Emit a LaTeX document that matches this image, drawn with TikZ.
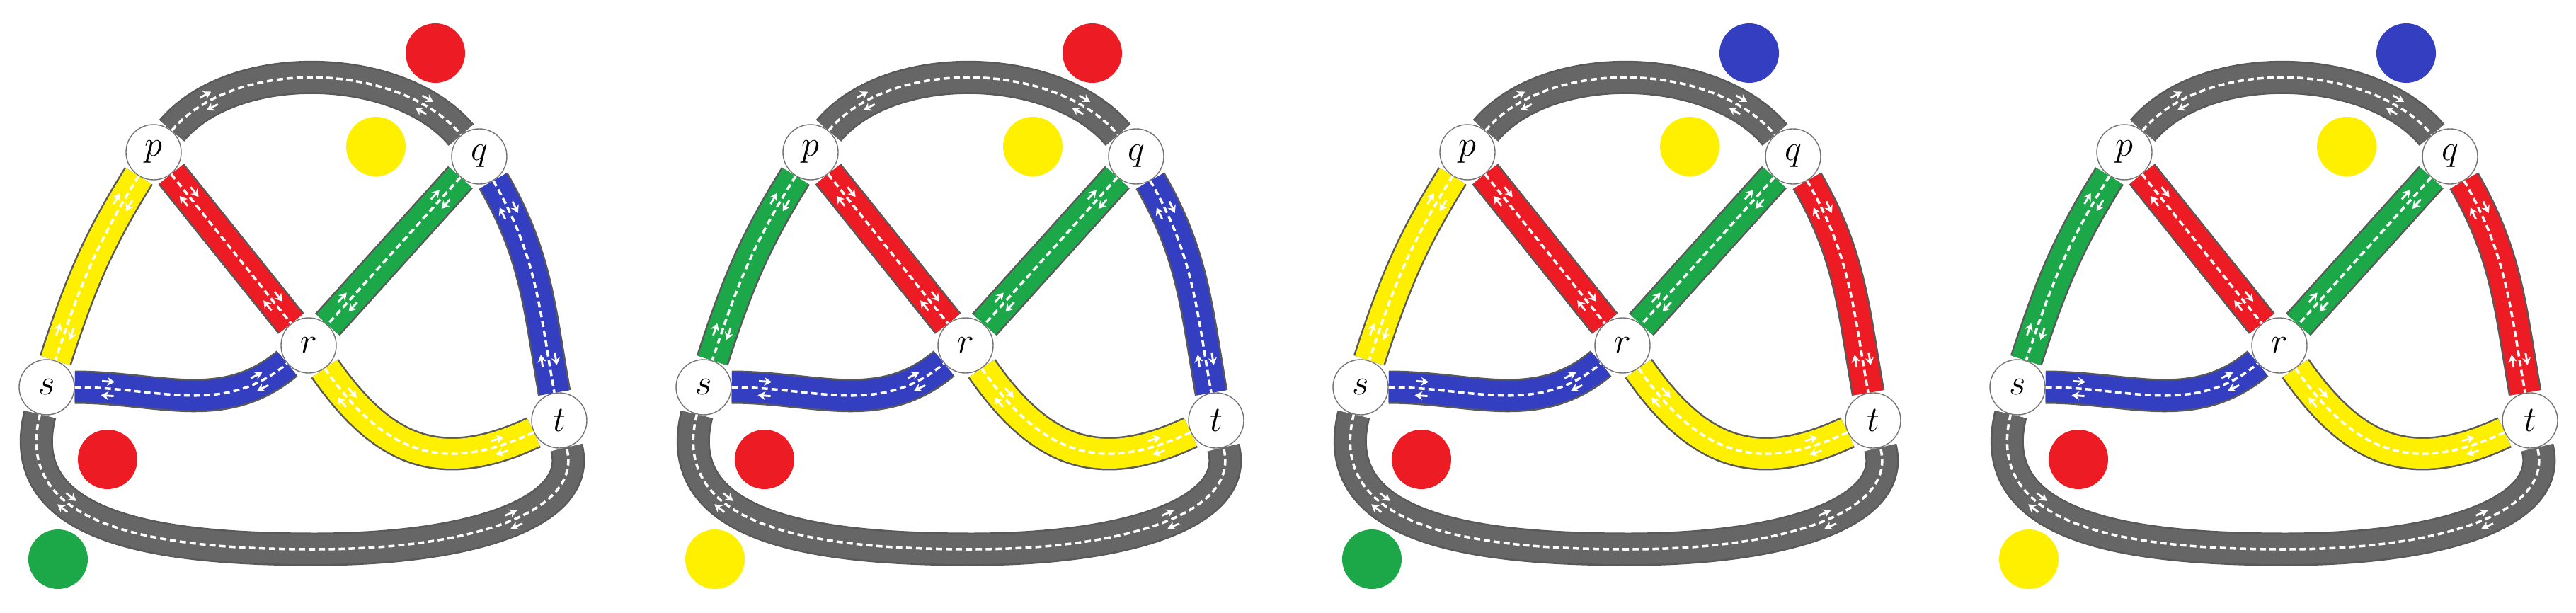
\documentclass[tikz,border=0pt]{standalone}
\usetikzlibrary{decorations.markings,arrows.meta}

\definecolor{rred}{RGB}{237,28,36}
\definecolor{ryellow}{RGB}{255,240,0}
\definecolor{rgreen}{RGB}{28,168,72}
\definecolor{rblue}{RGB}{52,62,192}
\definecolor{rgray}{RGB}{102,102,102}

\begin{document}
\begin{tikzpicture}[town/.style={circle,draw=black!55,fill=white,minimum size=0.78cm,inner sep=0pt,font=\Large},
  dot/.style={circle,fill=#1,minimum size=0.84cm,inner sep=0pt},
  lane/.style={white,solid,line width=0.8pt,-{Stealth[length=3pt,width=3.5pt]}},
  road/.style={draw=#1,line width=0.42cm,
    preaction={draw=black!65,line width=0.47cm},
    postaction={draw=white,line width=1pt,dash pattern=on 2.5pt off 1.5pt},
    postaction={decorate,decoration={markings,
      mark=at position 0.15 with {\draw[lane] (-0.09,0.1) -- (0.09,0.1); \draw[lane] (0.09,-0.1) -- (-0.09,-0.1);},
      mark=at position 0.85 with {\draw[lane] (-0.09,0.1) -- (0.09,0.1); \draw[lane] (0.09,-0.1) -- (-0.09,-0.1);}}}}]

  \useasboundingbox (0,0) rectangle (36.39,-8.66);

  \foreach \k/\cps/\cqt/\ctop/\cbot in {0/ryellow/rblue/rred/rgreen, 1/rgreen/rblue/rred/ryellow,
      2/ryellow/rred/rblue/rgreen, 3/rgreen/rred/rblue/ryellow} {
    \begin{scope}[xshift=\k*9.28cm]
      \node[town] (p\k) at (2.17,-2.15) {$p$};
      \node[town] (q\k) at (6.77,-2.21) {$q$};
      \node[town] (r\k) at (4.36,-4.88) {$r$};
      \node[town] (s\k) at (0.66,-5.47) {$s$};
      \node[town] (t\k) at (7.90,-5.94) {$t$};

      \node[dot=\ctop] (top\k) at (6.15,-0.75) {};
      \node[dot=ryellow] (mid\k) at (5.31,-2.07) {};
      \node[dot=rred] (low\k) at (1.52,-6.49) {};
      \node[dot=\cbot] (bot\k) at (0.82,-7.90) {};

      \draw[road=rgray] (p\k) to[out=50,in=130,looseness=0.85] (q\k);
      \draw[road=rgray] (s\k) .. controls +(-0.5,-2) and +(-2.2,0) .. (4.45,-7.76)
                              .. controls +(2.2,0) and +(0.35,-1.3) .. (t\k);
      \draw[road=\cps] (p\k) to[out=238,in=72] (s\k);
      \draw[road=rred] (p\k) -- (r\k);
      \draw[road=rgreen] (q\k) -- (r\k);
      \draw[road=\cqt] (q\k) to[out=-60,in=100] (t\k);
      \draw[road=rblue] (s\k) to[out=0,in=220] (r\k);
      \draw[road=ryellow] (r\k) to[out=-55,in=205,looseness=1.2] (t\k);
    \end{scope}
  }
\end{tikzpicture}
\end{document}
